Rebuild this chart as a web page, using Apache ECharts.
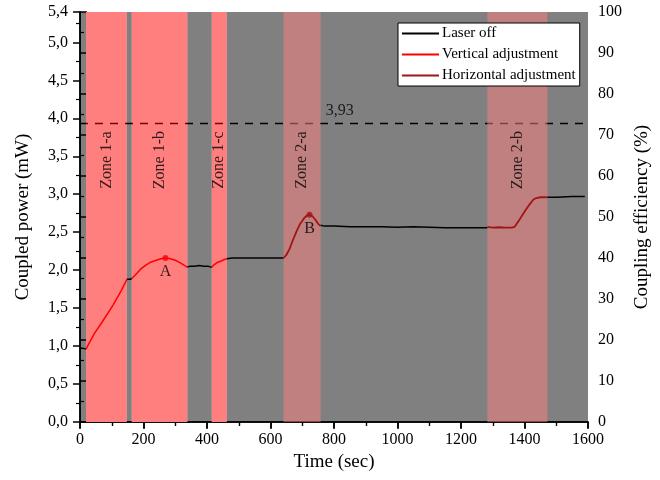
<!DOCTYPE html>
<html>
<head>
<meta charset="utf-8">
<script src="https://cdn.jsdelivr.net/npm/echarts@6/dist/echarts.min.js"></script>
<style>html,body{margin:0;padding:0;background:#fff}#c{width:660px;height:480px}</style>
</head>
<body>
<div id="c"></div>
<script>
// ---- data ----
const xTicks = [0, 200, 400, 600, 800, 1000, 1200, 1400, 1600];
const leftTicks = [0, 0.5, 1, 1.5, 2, 2.5, 3, 3.5, 4, 4.5, 5, 5.4];
const rightTicks = [0, 10, 20, 30, 40, 50, 60, 70, 80, 90, 100];

// zones: start, end (sec), type (1 = vertical adjustment, 2 = horizontal adjustment)
const zoneNames = ['Zone 1-a', 'Zone 1-b', 'Zone 1-c', 'Zone 2-a', 'Zone 2-b'];
const zoneStart = [19, 163, 415, 641, 1283];
const zoneEnd = [147, 338, 462, 758, 1472];
const zoneType = [1, 1, 1, 2, 2];
const zoneLabelLevel = 3.45;

const refLevel = 3.93;
const refLabel = '3,93';
const refLabelTime = 818;

// Laser off (black) segments, null separates segments
const laserOffTime = [0, 5, 10, 15, 19, null, 147, 152, 158, 163, null,
  338, 345, 360, 375, 390, 405, 412, 415, null,
  462, 480, 520, 560, 600, 641, null,
  758, 770, 800, 850, 900, 950, 1000, 1050, 1100, 1150, 1200, 1250, 1283, null,
  1472, 1500, 1550, 1590];
const laserOffPower = [0.97, 0.96, 0.97, 0.96, 0.96, null, 1.88, 1.89, 1.88, 1.89, null,
  2.04, 2.05, 2.05, 2.06, 2.05, 2.05, 2.04, 2.04, null,
  2.15, 2.16, 2.16, 2.16, 2.16, 2.16, null,
  2.59, 2.58, 2.58, 2.57, 2.57, 2.57, 2.565, 2.57, 2.565, 2.56, 2.56, 2.56, 2.56, null,
  2.96, 2.96, 2.97, 2.97];

// Vertical adjustment (red)
const verticalTime = [19, 25, 46, 72, 104, 130, 148, null,
  163, 175, 190, 205, 220, 240, 255, 269, 285, 300, 315, 330, 338, null,
  415, 422, 432, 445, 455, 462];
const verticalPower = [0.96, 1.01, 1.17, 1.33, 1.54, 1.73, 1.88, null,
  1.89, 1.94, 2.01, 2.06, 2.10, 2.13, 2.15, 2.16, 2.15, 2.13, 2.10, 2.06, 2.04, null,
  2.04, 2.07, 2.10, 2.12, 2.14, 2.15];

// Horizontal adjustment (dark red)
const horizontalTime = [641, 650, 660, 671, 682, 692, 707, 715, 723, 732, 742, 750, 758, null,
  1283, 1300, 1320, 1340, 1360, 1369, 1385, 1400, 1415, 1428, 1437, 1450, 1472];
const horizontalPower = [2.16, 2.20, 2.28, 2.40, 2.51, 2.60, 2.69, 2.72, 2.73, 2.71, 2.66, 2.61, 2.58, null,
  2.57, 2.56, 2.565, 2.56, 2.56, 2.57, 2.67, 2.77, 2.86, 2.93, 2.95, 2.96, 2.96];

const pointLabels = ['A', 'B'];
const pointTime = [269, 723];
const pointPower = [2.16, 2.73];

// ---- build ----
const FONT = 'Liberation Serif';
const X_MIN = 0, X_MAX = 1600, Y_MIN = 0, Y_MAX = 5.4;
const BLACK = '#000000', RED = '#FF0000', DARKRED = '#A01515';

function segments(ts, vs) {
  const out = []; let cur = [];
  ts.forEach((t, i) => {
    if (t === null) { if (cur.length) out.push(cur); cur = []; }
    else cur.push([t, vs[i]]);
  });
  if (cur.length) out.push(cur);
  return out;
}
function lineSeries(name, ts, vs, color, width) {
  return segments(ts, vs).map(seg => ({
    name: name, type: 'line', z: 5, symbol: 'none', showSymbol: false, data: seg,
    lineStyle: { color: color, width: width }, itemStyle: { color: color }
  }));
}
const zoneData = zoneStart.map((s, i) => [s, zoneEnd[i], Y_MIN, Y_MAX, zoneType[i]]);

function zoneRender(fillFn) {
  return function (params, api) {
    const p1 = api.coord([api.value(0), api.value(3)]);
    const p2 = api.coord([api.value(1), api.value(2)]);
    const fill = fillFn(api.value(4));
    if (!fill) return null;
    return { type: 'rect', shape: { x: p1[0], y: p1[1], width: p2[0] - p1[0], height: p2[1] - p1[1] }, style: { fill: fill } };
  };
}

const tickLabelStyle = { fontFamily: FONT, fontSize: 16, color: '#000' };
const nameStyle = { fontFamily: FONT, fontSize: 19, color: '#000' };
const axisLine = { show: true, lineStyle: { color: '#000', width: 1.5 } };

const chart = echarts.init(document.getElementById('c'), null, { renderer: 'canvas' });
chart.setOption({
  animation: false,
  backgroundColor: '#fff',
  grid: { left: 80, right: 72, top: 12, bottom: 58, show: true, backgroundColor: '#808080', borderWidth: 0 },
  legend: {
    data: ['Laser off', 'Vertical adjustment', 'Horizontal adjustment'],
    orient: 'vertical', left: 398, top: 23,
    backgroundColor: '#fff', borderColor: '#000', borderWidth: 1,
    padding: [3, 4, 3, 3], itemWidth: 37, itemHeight: 14, itemGap: 6,
    itemStyle: { opacity: 0 },
    textStyle: { fontFamily: FONT, fontSize: 15, color: '#000', padding: [0, 0, 0, -2] },
    selectedMode: false
  },
  xAxis: [{
    type: 'value', min: X_MIN, max: X_MAX, interval: xTicks[1] - xTicks[0], position: 'bottom',
    name: 'Time (sec)', nameLocation: 'middle', nameGap: 26, nameTextStyle: nameStyle,
    axisLine: axisLine,
    axisTick: { show: true, inside: false, length: 7, lineStyle: { color: '#000', width: 1.5 } },
    minorTick: { show: true, splitNumber: 2, length: 4, lineStyle: { color: '#000', width: 1.2 } },
    axisLabel: Object.assign({ margin: 10, formatter: v => String(v) }, tickLabelStyle),
    splitLine: { show: false }
  }, {
    type: 'value', min: X_MIN, max: X_MAX, interval: xTicks[1] - xTicks[0], position: 'top',
    axisLine: axisLine,
    axisTick: { show: true, inside: true, length: 6, lineStyle: { color: '#000', width: 1.5 } },
    minorTick: { show: true, splitNumber: 2, length: 4, lineStyle: { color: '#000', width: 1.2 } },
    axisLabel: { show: false }, splitLine: { show: false }
  }],
  yAxis: [{
    type: 'value', min: Y_MIN, max: Y_MAX, interval: leftTicks[1] - leftTicks[0], position: 'left',
    name: 'Coupled power (mW)', nameLocation: 'middle', nameGap: 47, nameTextStyle: nameStyle,
    axisLine: axisLine,
    axisTick: { show: true, inside: false, length: 7, lineStyle: { color: '#000', width: 1.5 } },
    minorTick: { show: true, splitNumber: 2, length: 4, lineStyle: { color: '#000', width: 1.2 } },
    axisLabel: Object.assign({ margin: 12, formatter: v => v.toFixed(1).replace('.', ','), showMaxLabel: true }, tickLabelStyle),
    splitLine: { show: false }
  }, {
    type: 'value', min: rightTicks[0], max: rightTicks[rightTicks.length - 1], interval: rightTicks[1] - rightTicks[0], position: 'right',
    name: 'Coupling efficiency (%)', nameLocation: 'middle', nameGap: 44, nameTextStyle: nameStyle,
    axisLine: axisLine,
    axisTick: { show: true, inside: false, length: 7, lineStyle: { color: '#000', width: 1.5 } },
    minorTick: { show: true, splitNumber: 2, length: 4, lineStyle: { color: '#000', width: 1.2 } },
    axisLabel: Object.assign({ margin: 10, formatter: v => String(v) }, tickLabelStyle),
    splitLine: { show: false }
  }],
  series: [
    { type: 'custom', z: 1, silent: true, renderItem: zoneRender(t => t === 1 ? '#FFFFFF' : null),
      encode: { x: [0, 1], y: [2, 3] }, data: zoneData },
    { type: 'line', z: 2, silent: true, symbol: 'none', data: [[X_MIN, refLevel], [X_MAX, refLevel]],
      lineStyle: { color: '#000', width: 1.5, type: [8, 7] } },
    { type: 'custom', z: 3, silent: true, renderItem: zoneRender(t => t === 1 ? 'rgba(255,0,0,0.5)' : 'rgba(255,128,128,0.5)'),
      encode: { x: [0, 1], y: [2, 3] }, data: zoneData },
    { type: 'scatter', z: 4, silent: true, symbolSize: 0,
      data: [[refLabelTime, refLevel]],
      label: { show: true, position: 'top', distance: 5, formatter: refLabel, fontFamily: FONT, fontSize: 16, color: '#000' } },
    { type: 'scatter', z: 4, silent: true, symbolSize: 0,
      data: zoneNames.map((n, i) => ({ value: [(zoneStart[i] + zoneEnd[i]) / 2, zoneLabelLevel], name: n })),
      label: { show: true, position: 'inside', rotate: 90, formatter: p => p.name, fontFamily: FONT, fontSize: 16, color: '#000' } }
  ]
  .concat(lineSeries('Laser off', laserOffTime, laserOffPower, BLACK, 1.5))
  .concat(lineSeries('Vertical adjustment', verticalTime, verticalPower, RED, 1.5))
  .concat(lineSeries('Horizontal adjustment', horizontalTime, horizontalPower, DARKRED, 1.8))
  .concat([
    { type: 'scatter', z: 6, silent: true, symbol: 'circle', symbolSize: 6,
      data: pointLabels.map((n, i) => ({ value: [pointTime[i], pointPower[i]], name: n, itemStyle: { color: i === 0 ? RED : DARKRED } })),
      label: { show: true, position: 'bottom', distance: 3, formatter: p => p.name, fontFamily: FONT, fontSize: 16, color: '#000' } }
  ])
});
</script>
</body>
</html>
